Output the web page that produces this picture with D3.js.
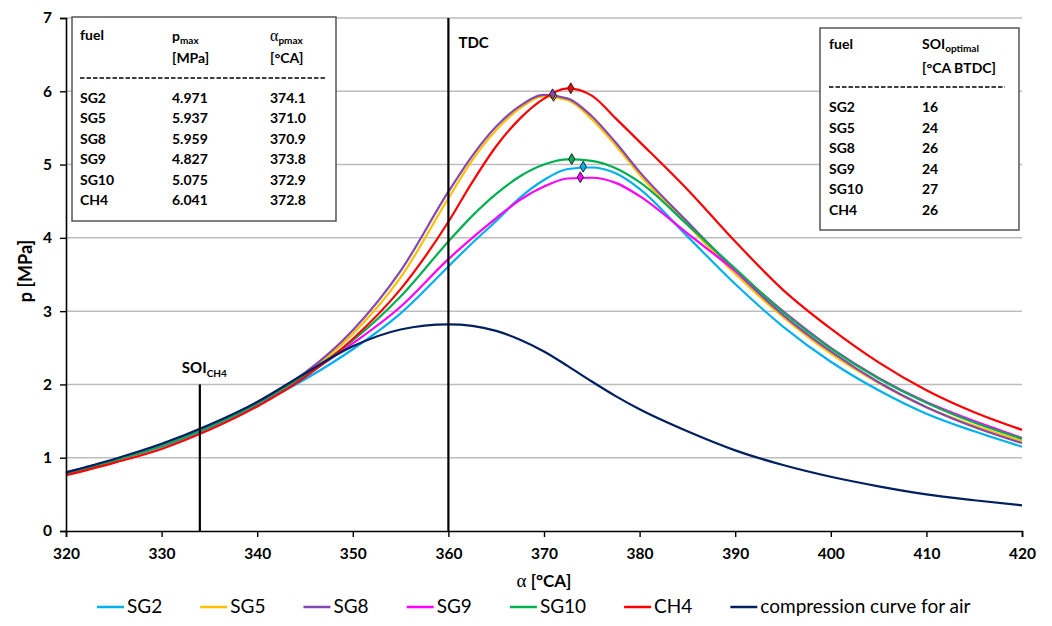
<!DOCTYPE html>
<html>
<head>
<meta charset="utf-8">
<script src="https://cdn.jsdelivr.net/npm/d3@7"></script>
<style>
  body { margin: 0; background: #fff; }
  svg { font-family: Lato, "DejaVu Sans", sans-serif; }
</style>
</head>
<body>
<svg id="chart" width="1052" height="626"></svg>
<script>
// crank angle grid [°CA]
let alphaGrid = [320, 325, 330, 335, 340, 345, 350, 355, 360, 362.5, 365, 367.5, 370, 372.5, 375, 377.5, 380, 385, 390, 395, 400, 405, 410, 415, 420]

// cylinder pressure [MPa]
let sg2  = [0.79, 0.96, 1.15, 1.41, 1.72, 2.07, 2.48, 2.97, 3.61, 3.93, 4.23, 4.55, 4.79, 4.94, 4.96, 4.88, 4.67, 4.02, 3.37, 2.79, 2.31, 1.92, 1.60, 1.36, 1.15]
let sg5  = [0.79, 0.96, 1.16, 1.43, 1.75, 2.14, 2.69, 3.46, 4.54, 5.06, 5.47, 5.77, 5.93, 5.88, 5.62, 5.26, 4.86, 4.18, 3.51, 2.92, 2.42, 2.02, 1.69, 1.44, 1.23]
let sg8  = [0.80, 0.97, 1.17, 1.44, 1.76, 2.16, 2.74, 3.55, 4.63, 5.12, 5.52, 5.80, 5.95, 5.90, 5.66, 5.30, 4.90, 4.22, 3.55, 2.95, 2.45, 2.03, 1.69, 1.42, 1.20]
let sg9  = [0.79, 0.96, 1.16, 1.42, 1.74, 2.12, 2.56, 3.06, 3.71, 4.00, 4.27, 4.52, 4.70, 4.81, 4.82, 4.75, 4.57, 4.06, 3.55, 3.00, 2.50, 2.09, 1.76, 1.50, 1.27]
let sg10 = [0.79, 0.96, 1.16, 1.42, 1.74, 2.13, 2.60, 3.20, 3.95, 4.30, 4.60, 4.84, 5.00, 5.07, 5.05, 4.95, 4.76, 4.18, 3.58, 2.99, 2.49, 2.08, 1.75, 1.48, 1.26]
let ch4  = [0.76, 0.93, 1.12, 1.38, 1.70, 2.10, 2.62, 3.30, 4.22, 4.76, 5.25, 5.63, 5.90, 6.04, 5.94, 5.63, 5.31, 4.66, 3.95, 3.29, 2.76, 2.30, 1.92, 1.62, 1.38]
let air  = [0.80, 0.98, 1.19, 1.45, 1.76, 2.15, 2.52, 2.75, 2.82, 2.80, 2.73, 2.61, 2.45, 2.25, 2.04, 1.84, 1.66, 1.36, 1.10, 0.90, 0.74, 0.61, 0.50, 0.42, 0.35]

// tables
let fuels = ["SG2", "SG5", "SG8", "SG9", "SG10", "CH4"]
let pMax = ["4.971", "5.937", "5.959", "4.827", "5.075", "6.041"]
let alphaPMax = ["374.1", "371.0", "370.9", "373.8", "372.9", "372.8"]
let soiOptimal = ["16", "24", "26", "24", "27", "26"]

let xTicks = [320, 330, 340, 350, 360, 370, 380, 390, 400, 410, 420]
let yTicks = [0, 1, 2, 3, 4, 5, 6, 7]
let tdcAlpha = 360
let soiAlpha = 334
let soiTop = 2

let seriesNames = ["SG2", "SG5", "SG8", "SG9", "SG10", "CH4", "compression curve for air"]
let seriesValues = [sg2, sg5, sg8, sg9, sg10, ch4, air]
let seriesColors = ["#00b0f0", "#ffc000", "#8547b0", "#ff00ff", "#00b050", "#ff0000", "#002060"]

let svg = d3.select("#chart")

let plotLeft = 66, plotRight = 1022, plotTop = 18, plotBottom = 531

let xScale = d3.scaleLinear().domain([320, 420]).range([plotLeft, plotRight])
let yScale = d3.scaleLinear().domain([0, 7]).range([plotBottom, plotTop])

// gridlines
svg.append("g")
    .selectAll("line")
    .data(yTicks.filter(t => t > 0))
    .enter()
    .append("line")
    .attr("x1", plotLeft)
    .attr("x2", plotRight)
    .attr("y1", d => yScale(d))
    .attr("y2", d => yScale(d))
    .attr("stroke", "#bdbdbd")
    .attr("stroke-width", 1.5)

// curves
let line = d3.line()
    .x((d, i) => xScale(alphaGrid[i]))
    .y(d => yScale(d))
    .curve(d3.curveMonotoneX)

svg.append("g")
    .selectAll("path")
    .data(seriesValues)
    .enter()
    .append("path")
    .attr("d", d => line(d))
    .attr("fill", "none")
    .attr("stroke", (d, i) => seriesColors[i])
    .attr("stroke-width", 2.2)

// TDC and SOI lines
svg.append("line")
    .attr("x1", xScale(tdcAlpha)).attr("x2", xScale(tdcAlpha))
    .attr("y1", yScale(7)).attr("y2", yScale(0))
    .attr("stroke", "black").attr("stroke-width", 2.2)

svg.append("line")
    .attr("x1", xScale(soiAlpha)).attr("x2", xScale(soiAlpha))
    .attr("y1", yScale(soiTop)).attr("y2", yScale(0))
    .attr("stroke", "black").attr("stroke-width", 2.2)

svg.append("text")
    .attr("x", xScale(tdcAlpha) + 10)
    .attr("y", 48)
    .style("font-size", "15px")
    .style("font-weight", "bold")
    .text("TDC")

let soiLabel = svg.append("text")
    .attr("x", xScale(soiAlpha) - 18)
    .attr("y", 373)
    .style("font-size", "15px")
    .style("font-weight", "bold")
    .text("SOI")
soiLabel.append("tspan")
    .attr("dy", 4)
    .style("font-size", "10px")
    .text("CH4")

// peak markers
let diamond = d3.symbol().type(d3.symbolDiamond).size(34)
svg.append("g")
    .selectAll("path")
    .data(fuels)
    .enter()
    .append("path")
    .attr("d", diamond)
    .attr("transform", (d, i) => "translate(" + xScale(+alphaPMax[i]) + "," + yScale(+pMax[i]) + ")")
    .attr("fill", (d, i) => seriesColors[i])
    .attr("stroke", "#222")
    .attr("stroke-width", 1)

// axes
let yAxis = d3.axisLeft(yScale).tickValues(yTicks).tickSize(6).tickFormat(d3.format("d"))
let yG = svg.append("g").attr("transform", "translate(" + plotLeft + ",0)").call(yAxis)
let xAxis = d3.axisBottom(xScale).tickValues(xTicks).tickSize(6).tickFormat(d3.format("d"))
let xG = svg.append("g").attr("transform", "translate(0," + plotBottom + ")").call(xAxis)

for (let g of [xG, yG]) {
    g.select(".domain").attr("stroke", "black").attr("stroke-width", 1.6)
    g.selectAll(".tick line").attr("stroke", "black").attr("stroke-width", 1.4)
    g.selectAll(".tick text")
        .style("font-family", "Lato, sans-serif")
        .style("font-size", "15.5px")
        .style("font-weight", "bold")
        .attr("fill", "black")
}
yG.selectAll(".tick text").attr("x", -14)
xG.selectAll(".tick text").attr("y", 17)

svg.append("text")
    .attr("transform", "translate(32,271) rotate(-90)")
    .attr("text-anchor", "middle")
    .style("font-size", "18px")
    .style("font-weight", "bold")
    .text("p [MPa]")

let xLabel = svg.append("text")
    .attr("x", (plotLeft + plotRight) / 2)
    .attr("y", 587)
    .attr("text-anchor", "middle")
    .style("font-size", "17px")
    .style("font-weight", "bold")
xLabel.append("tspan").style("font-family", "Liberation Serif").style("font-weight", "normal").style("font-size", "19px").text("α")
xLabel.append("tspan").text(" [°CA]")

// left table
let tableL = svg.append("g").style("font-size", "14px").style("font-weight", "bold")
tableL.append("rect")
    .attr("x", 72).attr("y", 17).attr("width", 264).attr("height", 204)
    .attr("fill", "white").attr("stroke", "#555").attr("stroke-width", 1.5)
tableL.append("text").attr("x", 80).attr("y", 40).text("fuel")
let pHead = tableL.append("text").attr("x", 172).attr("y", 41).text("p")
pHead.append("tspan").attr("dy", 3).style("font-size", "10px").text("max")
tableL.append("text").attr("x", 172).attr("y", 63).text("[MPa]")
let aHead = tableL.append("text").attr("x", 270).attr("y", 41)
aHead.append("tspan").style("font-family", "Liberation Serif").style("font-weight", "normal").style("font-size", "16px").text("α")
aHead.append("tspan").attr("dy", 3).style("font-size", "10px").text("pmax")
tableL.append("text").attr("x", 270).attr("y", 63).text("[°CA]")
tableL.append("line")
    .attr("x1", 80).attr("x2", 326).attr("y1", 78).attr("y2", 78)
    .attr("stroke", "black").attr("stroke-width", 1.6).attr("stroke-dasharray", "4.5 2")
fuels.forEach((f, i) => {
    let y = 103 + i * 20.4
    tableL.append("text").attr("x", 80).attr("y", y).text(f)
    tableL.append("text").attr("x", 172).attr("y", y).text(pMax[i])
    tableL.append("text").attr("x", 270).attr("y", y).text(alphaPMax[i])
})

// right table
let tableR = svg.append("g").style("font-size", "14px").style("font-weight", "bold")
tableR.append("rect")
    .attr("x", 820).attr("y", 28).attr("width", 199).attr("height", 202)
    .attr("fill", "white").attr("stroke", "#555").attr("stroke-width", 1.5)
tableR.append("text").attr("x", 829).attr("y", 49).text("fuel")
let soiHead = tableR.append("text").attr("x", 922).attr("y", 49).text("SOI")
soiHead.append("tspan").attr("dy", 3).style("font-size", "10px").text("optimal")
tableR.append("text").attr("x", 922).attr("y", 73).text("[°CA BTDC]")
tableR.append("line")
    .attr("x1", 829).attr("x2", 1005).attr("y1", 87).attr("y2", 87)
    .attr("stroke", "black").attr("stroke-width", 1.6).attr("stroke-dasharray", "4.5 2")
fuels.forEach((f, i) => {
    let y = 112 + i * 20.6
    tableR.append("text").attr("x", 829).attr("y", y).text(f)
    tableR.append("text").attr("x", 922).attr("y", y).text(soiOptimal[i])
})

// legend
let legend = svg.append("g").style("font-size", "19px")
let lx = 97
seriesNames.forEach((name, i) => {
    legend.append("line")
        .attr("x1", lx).attr("x2", lx + 27).attr("y1", 607).attr("y2", 607)
        .attr("stroke", seriesColors[i]).attr("stroke-width", 2.5)
    let t = legend.append("text").attr("x", lx + 30).attr("y", 613).text(name)
    lx += 30 + t.node().getComputedTextLength() + 38
})
</script>
</body>
</html>
